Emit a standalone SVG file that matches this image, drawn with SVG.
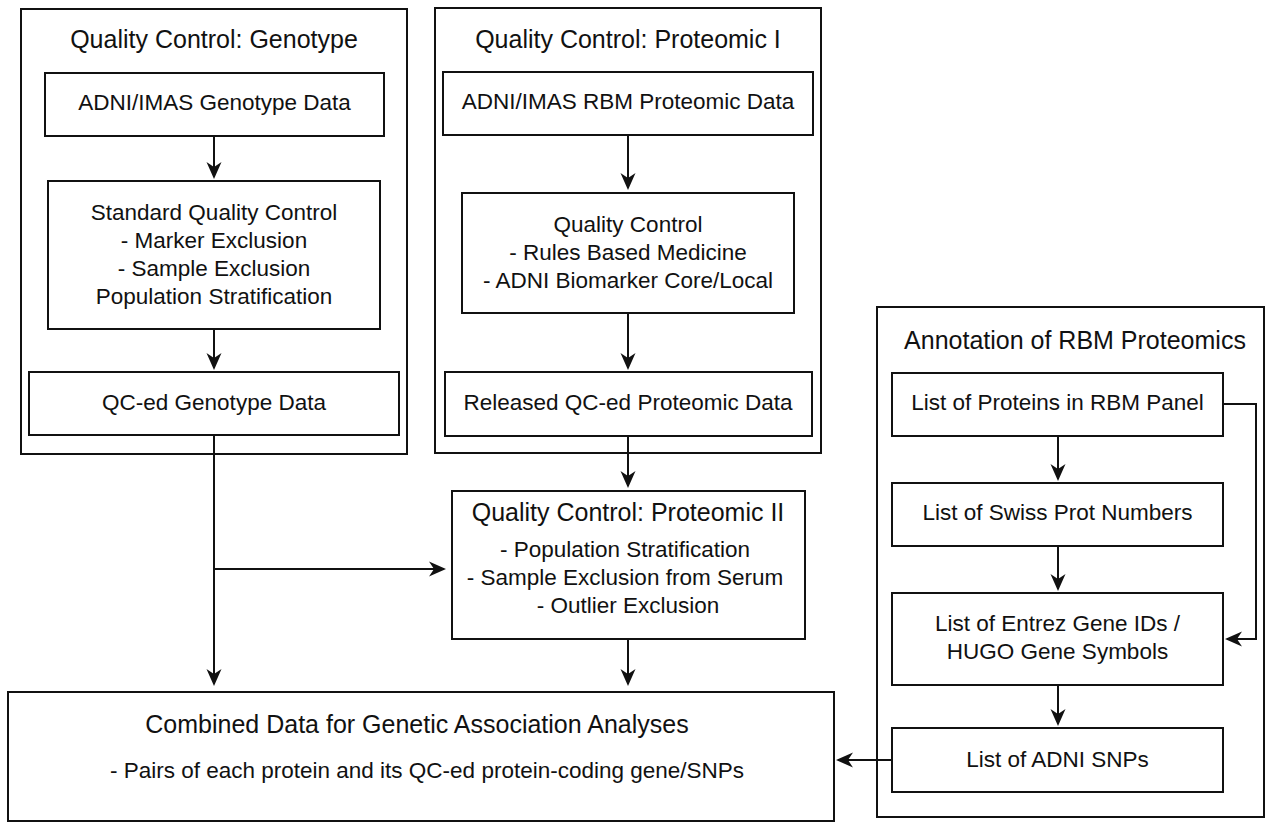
<svg xmlns="http://www.w3.org/2000/svg" width="1267" height="824" viewBox="0 0 1267 824">
<style>
  .box { fill: #fff; stroke: #111; stroke-width: 2; }
  .t { font-family: "Liberation Sans", Arial, Helvetica, sans-serif; fill: #111; text-anchor: middle; }
  .title { font-size: 25px; }
  .body { font-size: 22.5px; }
  .conn { fill: none; stroke: #111; stroke-width: 2; }
  .arr { marker-end: url(#ah); }
</style>
<defs>
  <marker id="ah" markerUnits="userSpaceOnUse" markerWidth="19" markerHeight="18" refX="15" refY="9" orient="auto">
    <path d="M0,1.5 L17,9 L0,16.5 L5,9 Z" fill="#111"/>
  </marker>
</defs>
<rect x="0" y="0" width="1267" height="824" fill="#fff"/>

<g id="group-genotype">
  <rect class="box" x="21" y="9" width="386" height="445"/>
  <text class="t title" x="214" y="48">Quality Control: Genotype</text>
</g>
<g id="node-genotype-data">
  <rect class="box" x="45" y="73" width="339" height="63"/>
  <text class="t body" x="214.5" y="110">ADNI/IMAS Genotype Data</text>
</g>
<g id="node-standard-qc">
  <rect class="box" x="48" y="181" width="332" height="148"/>
  <text class="t body" x="214" y="220">Standard Quality Control</text>
  <text class="t body" x="214" y="248">- Marker Exclusion</text>
  <text class="t body" x="214" y="276">- Sample Exclusion</text>
  <text class="t body" x="214" y="304">Population Stratification</text>
</g>
<g id="node-qced-genotype">
  <rect class="box" x="29" y="372" width="370" height="63"/>
  <text class="t body" x="214" y="410">QC-ed Genotype Data</text>
</g>

<g id="group-proteomic1">
  <rect class="box" x="435" y="8" width="386" height="445"/>
  <text class="t title" x="628" y="48">Quality Control: Proteomic I</text>
</g>
<g id="node-rbm-data">
  <rect class="box" x="443" y="72" width="370" height="63"/>
  <text class="t body" x="628" y="109">ADNI/IMAS RBM Proteomic Data</text>
</g>
<g id="node-qc">
  <rect class="box" x="462" y="193" width="332" height="120"/>
  <text class="t body" x="628" y="232">Quality Control</text>
  <text class="t body" x="628" y="260">- Rules Based Medicine</text>
  <text class="t body" x="628" y="288">- ADNI Biomarker Core/Local</text>
</g>
<g id="node-released">
  <rect class="box" x="445" y="372" width="367" height="64"/>
  <text class="t body" x="628" y="410">Released QC-ed Proteomic Data</text>
</g>

<g id="node-proteomic2">
  <rect class="box" x="452" y="491" width="353" height="148"/>
  <text class="t title" x="628" y="521">Quality Control: Proteomic II</text>
  <text class="t body" x="625" y="557">- Population Stratification</text>
  <text class="t body" x="625" y="585">- Sample Exclusion from Serum</text>
  <text class="t body" x="628" y="613">- Outlier Exclusion</text>
</g>

<g id="group-annotation">
  <rect class="box" x="877" y="307" width="387" height="510"/>
  <text class="t title" x="1075" y="349">Annotation of RBM Proteomics</text>
</g>
<g id="node-proteins">
  <rect class="box" x="892" y="373" width="331" height="63"/>
  <text class="t body" x="1057.5" y="410">List of Proteins in RBM Panel</text>
</g>
<g id="node-swiss">
  <rect class="box" x="892" y="483" width="331" height="63"/>
  <text class="t body" x="1057.5" y="520">List of Swiss Prot Numbers</text>
</g>
<g id="node-entrez">
  <rect class="box" x="892" y="593" width="331" height="92"/>
  <text class="t body" x="1057.5" y="631">List of Entrez Gene IDs /</text>
  <text class="t body" x="1057.5" y="659">HUGO Gene Symbols</text>
</g>
<g id="node-snps">
  <rect class="box" x="892" y="728" width="331" height="64"/>
  <text class="t body" x="1057.5" y="767">List of ADNI SNPs</text>
</g>

<g id="node-combined">
  <rect class="box" x="8" y="692" width="826" height="129"/>
  <text class="t title" x="417" y="733">Combined Data for Genetic Association Analyses</text>
  <text class="t body" x="427" y="778">- Pairs of each protein and its QC-ed protein-coding gene/SNPs</text>
</g>

<g id="connectors">
  <path class="conn arr" d="M214,136 V177"/>
  <path class="conn arr" d="M214,329 V368"/>
  <path class="conn arr" d="M214,435 V684"/>
  <path class="conn arr" d="M214,569 H444"/>
  <path class="conn arr" d="M628,135 V188"/>
  <path class="conn arr" d="M628,313 V368"/>
  <path class="conn arr" d="M628,436 V486"/>
  <path class="conn arr" d="M628,639 V684"/>
  <path class="conn arr" d="M1058,436 V479"/>
  <path class="conn arr" d="M1058,546 V589"/>
  <path class="conn arr" d="M1058,685 V724"/>
  <path class="conn arr" d="M1223,404 H1256 V639 H1227"/>
  <path class="conn arr" d="M892,760 H838"/>
</g>
</svg>
